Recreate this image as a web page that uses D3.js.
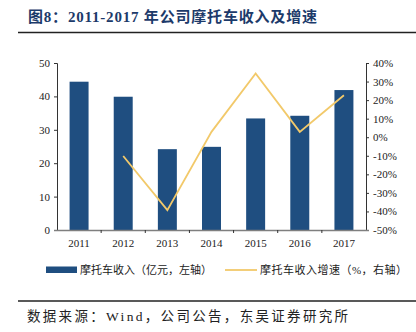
<!DOCTYPE html>
<html><head><meta charset="utf-8">
<script src="https://cdn.jsdelivr.net/npm/d3@7"></script>
<style>
body{margin:0;background:#fff;}
svg{display:block;}
text{font-family:"Liberation Serif","Noto Sans CJK SC",serif;}
</style></head>
<body><svg id="c" width="416" height="332"></svg>
<script>
const years = ["2011","2012","2013","2014","2015","2016","2017"];
const revenue = [44.4, 39.9, 24.2, 24.9, 33.4, 34.2, 41.9];
const growth = [null, -10.1, -39.3, 2.9, 34.3, 2.9, 22.6];
const leftTicks = [0,10,20,30,40,50];
const rightTicks = [-50,-40,-30,-20,-10,0,10,20,30,40];
const titleText = "图8：2011-2017 年公司摩托车收入及增速";
const legendBar = "摩托车收入（亿元，左轴）";
const legendLine = "摩托车收入增速（%，右轴）";
const sourceText = "数据来源：Wind，公司公告，东吴证券研究所";

const svg = d3.select("#c");
const L = 57, R = 366, T = 63, B = 230;
const x = d3.scaleBand().domain(years).range([L, R]).paddingInner(0.57).paddingOuter(0.285);
const yL = d3.scaleLinear().domain([0, 50]).range([B, T]);
const yR = d3.scaleLinear().domain([-50, 40]).range([B, T]);
const barColor = "#1F4E80", lineColor = "#F2C96A", axisColor = "#7f7f7f";

// title
svg.append("text").attr("x", 28).attr("y", 22).attr("font-size", 15).attr("font-weight", "bold")
  .attr("fill", "#1c3a6a").attr("textLength", 289).attr("lengthAdjust", "spacing").text(titleText);
svg.append("line").attr("x1", 18).attr("x2", 416).attr("y1", 32.5).attr("y2", 32.5)
  .attr("stroke", "#222").attr("stroke-width", 1.5);

// bars
svg.append("g").selectAll("rect").data(years).join("rect")
  .attr("x", d => x(d)).attr("width", x.bandwidth())
  .attr("y", (d, i) => yL(revenue[i])).attr("height", (d, i) => B - yL(revenue[i]))
  .attr("fill", barColor);

// left axis
const gl = svg.append("g").attr("transform", `translate(${L},0)`)
  .call(d3.axisLeft(yL).tickValues(leftTicks).tickSize(3).tickPadding(4));
// right axis
const gr = svg.append("g").attr("transform", `translate(${R},0)`)
  .call(d3.axisRight(yR).tickValues(rightTicks).tickSize(3).tickPadding(4).tickFormat(d => d + "%"));
[gl, gr].forEach(g => {
  g.select(".domain").attr("stroke", "#333").attr("stroke-width", 1);
  g.selectAll(".tick line").attr("stroke", "#333");
  g.selectAll(".tick text").attr("font-size", 11).attr("fill", "#222")
    .attr("font-family", "Liberation Serif, serif");
});

// x axis
const gx = svg.append("g").attr("transform", `translate(0,${B})`)
  .call(d3.axisBottom(x).tickSize(0).tickPadding(9));
gx.select(".domain").remove();
gx.selectAll(".tick text").attr("font-size", 11).attr("fill", "#222").attr("font-family", "Liberation Serif, serif");
svg.append("line").attr("x1", L - 3).attr("x2", R + 3).attr("y1", B + 0.5).attr("y2", B + 0.5)
  .attr("stroke", axisColor).attr("stroke-width", 1.5);
// category separator ticks
svg.append("g").selectAll("line").data(years.slice(1)).join("line")
  .attr("x1", d => x(d) - x.step() * x.paddingInner() / 2)
  .attr("x2", d => x(d) - x.step() * x.paddingInner() / 2)
  .attr("y1", B).attr("y2", B + 3).attr("stroke", "#333");

// growth line
const pts = years.map((d, i) => [x(d) + x.bandwidth() / 2, growth[i]]).filter(p => p[1] !== null);
svg.append("path").datum(pts)
  .attr("d", d3.line().x(p => p[0]).y(p => yR(p[1])))
  .attr("fill", "none").attr("stroke", lineColor).attr("stroke-width", 1.8);

// legend
svg.append("rect").attr("x", 46).attr("y", 266.5).attr("width", 31).attr("height", 6.5).attr("fill", barColor);
svg.append("text").attr("x", 80).attr("y", 274).attr("font-size", 11).attr("fill", "#222")
  .attr("textLength", 132).attr("lengthAdjust", "spacing").text(legendBar);
svg.append("line").attr("x1", 225).attr("x2", 257).attr("y1", 270).attr("y2", 270)
  .attr("stroke", lineColor).attr("stroke-width", 1.8);
svg.append("text").attr("x", 260).attr("y", 274).attr("font-size", 11).attr("fill", "#222")
  .attr("textLength", 147).attr("lengthAdjust", "spacing").text(legendLine);

// source
svg.append("line").attr("x1", 18).attr("x2", 416).attr("y1", 301).attr("y2", 301)
  .attr("stroke", "#222").attr("stroke-width", 1.5);
svg.append("text").attr("x", 27).attr("y", 321).attr("font-size", 13.5).attr("fill", "#222")
  .attr("textLength", 321).attr("lengthAdjust", "spacing").text(sourceText);
</script></body></html>
